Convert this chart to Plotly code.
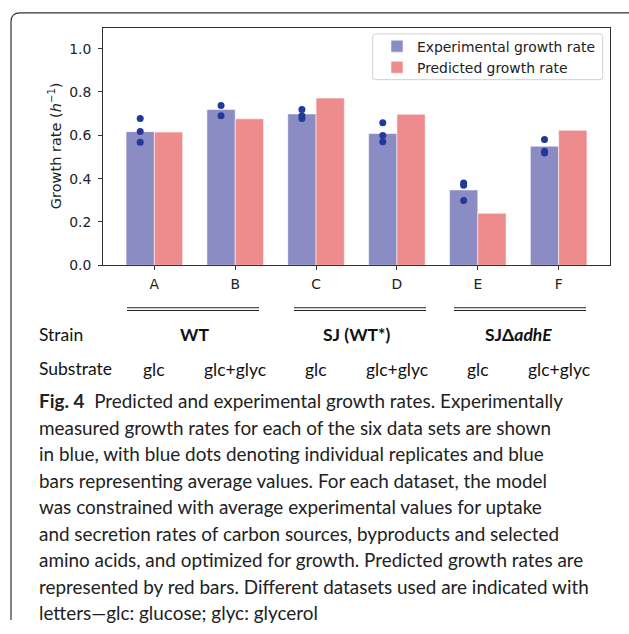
import plotly.graph_objects as go

W, H = 629, 634

# ---- data ----
datasets = ["A", "B", "C", "D", "E", "F"]
experimental = [0.617, 0.719, 0.699, 0.608, 0.348, 0.550]
predicted = [0.615, 0.676, 0.772, 0.697, 0.240, 0.623]
replicates = [
    [0.678, 0.618, 0.568],
    [0.738, 0.690],
    [0.719, 0.690, 0.678],
    [0.658, 0.599, 0.570],
    [0.380, 0.369, 0.299],
    [0.581, 0.527, 0.518],
]
strains = ["<b>WT</b>", "<b>SJ (WT*)</b>", "<b>SJΔ<i>adhE</i></b>"]
substrates = ["glc", "glc+glyc", "glc", "glc+glyc", "glc", "glc+glyc"]
yticks = [0.0, 0.2, 0.4, 0.6, 0.8, 1.0]
caption_lines = [
    "<b>Fig. 4</b>  Predicted and experimental growth rates. Experimentally",
    "measured growth rates for each of the six data sets are shown",
    "in blue, with blue dots denoting individual replicates and blue",
    "bars representing average values. For each dataset, the model",
    "was constrained with average experimental values for uptake",
    "and secretion rates of carbon sources, byproducts and selected",
    "amino acids, and optimized for growth. Predicted growth rates are",
    "represented by red bars. Different datasets used are indicated with",
    "letters\u2014glc: glucose; glyc: glycerol",
]


def px(x):
    return x / W


def py(y):
    return 1 - y / H


BLUE = "#8b8cc4"
RED = "#ee8b8c"
DOT = "#23399a"
BW = 0.35

xpos = list(range(len(datasets)))
dot_x, dot_y = [], []
for i, reps in enumerate(replicates):
    for v in reps:
        dot_x.append(i - BW / 2)
        dot_y.append(v)

fig = go.Figure()
fig.add_trace(go.Bar(
    x=xpos, y=experimental, width=BW, offset=-BW,
    marker=dict(color=BLUE, line=dict(color="rgba(255,255,255,0.55)", width=1)),
    name="Experimental growth rate",
))
fig.add_trace(go.Bar(
    x=xpos, y=predicted, width=BW, offset=0,
    marker=dict(color=RED, line=dict(color="rgba(255,255,255,0.55)", width=1)),
    name="Predicted growth rate",
))
fig.add_trace(go.Scatter(
    x=dot_x, y=dot_y, mode="markers",
    marker=dict(color=DOT, size=7),
    showlegend=False, hoverinfo="y",
))

axis_font = dict(family="DejaVu Sans", size=13.9, color="#222")

fig.update_layout(
    width=W, height=H,
    margin=dict(l=0, r=0, t=0, b=0),
    paper_bgcolor="white", plot_bgcolor="white",
    barmode="overlay",
    xaxis=dict(
        domain=[px(103), px(610)], range=[-0.635, 5.635],
        tickvals=xpos, ticktext=datasets,
        showgrid=False, zeroline=False,
        showline=True, mirror=True, linecolor="#333", linewidth=1,
        ticks="outside", ticklen=4, tickcolor="#333",
        tickfont=axis_font, ticklabelstandoff=2,
    ),
    yaxis=dict(
        domain=[py(268.7), py(28)], range=[0, 1.097],
        tickvals=yticks, tickformat=".1f",
        showgrid=False, zeroline=False,
        showline=True, mirror=True, linecolor="#333", linewidth=1,
        ticks="outside", ticklen=4, tickcolor="#333",
        tickfont=axis_font, ticklabelstandoff=4,
    ),
    legend=dict(
        x=px(377), y=py(31), xanchor="left", yanchor="top",
        bgcolor="rgba(0,0,0,0)", borderwidth=0,
        font=dict(family="DejaVu Sans", size=13.9, color="#222"),
        tracegroupgap=0,
    ),
    showlegend=True,
)

shapes = []
# legend frame (matplotlib style)
x0, y0, x1, y1, r = 372.7, 34.3, 602.7, 80.7, 3
shapes.append(dict(
    type="path", xref="paper", yref="paper",
    path=(f"M {px(x0+r)},{py(y0)} L {px(x1-r)},{py(y0)} Q {px(x1)},{py(y0)} {px(x1)},{py(y0+r)} "
          f"L {px(x1)},{py(y1-r)} Q {px(x1)},{py(y1)} {px(x1-r)},{py(y1)} "
          f"L {px(x0+r)},{py(y1)} Q {px(x0)},{py(y1)} {px(x0)},{py(y1-r)} "
          f"L {px(x0)},{py(y0+r)} Q {px(x0)},{py(y0)} {px(x0+r)},{py(y0)} Z"),
    line=dict(color="#d0d0d0", width=1), fillcolor="rgba(255,255,255,0.8)", layer="below",
))
# outer figure frame with rounded corner
shapes.append(dict(
    type="path", xref="paper", yref="paper",
    path=(f"M {px(11)},{py(628)} L {px(11)},{py(22)} Q {px(11)},{py(13)} {px(20)},{py(13)} "
          f"L {px(629)},{py(13)}"),
    line=dict(color="#333", width=1.2),
))
# double rules above strain names
for (a, b) in [(127, 259), (294, 426), (454, 586)]:
    for yy in (311.7, 314.4):
        shapes.append(dict(type="line", xref="paper", yref="paper",
                           x0=px(a), x1=px(b), y0=py(yy), y1=py(yy),
                           line=dict(color="#222", width=1.1)))
fig.update_layout(shapes=shapes)

ann = []
ann.append(dict(
    text="Growth rate (<i>h</i><sup>\u22121</sup>)", textangle=-90,
    x=px(55), y=py(148), xref="paper", yref="paper",
    xanchor="center", yanchor="middle", showarrow=False,
    font=dict(family="DejaVu Sans", size=14.5, color="#222"),
))
tfont = dict(family="Lato", size=17.5, color="#111")
ann.append(dict(text="Strain", x=px(37), y=py(339), xref="paper", yref="paper",
                xanchor="left", yanchor="middle", showarrow=False, font=tfont))
ann.append(dict(text="Substrate", x=px(37), y=py(373), xref="paper", yref="paper",
                xanchor="left", yanchor="middle", showarrow=False, font=tfont))
for k, s in enumerate(strains):
    ann.append(dict(text=s, x=2 * k + 0.5, xref="x", y=py(339), yref="paper",
                    xanchor="center", yanchor="middle", showarrow=False, font=tfont))
for i, s in enumerate(substrates):
    ann.append(dict(text=s, x=xpos[i], xref="x", y=py(374), yref="paper",
                    xanchor="center", yanchor="middle", showarrow=False, font=tfont))
cfont = dict(family="Lato", size=18.9, color="#222")
for k, line in enumerate(caption_lines):
    ann.append(dict(text=line, x=px(37), y=py(406 + 26.8 * k), xref="paper", yref="paper",
                    xanchor="left", yanchor="middle", showarrow=False, font=cfont))
fig.update_layout(annotations=ann)

fig.write_html("out.html")
